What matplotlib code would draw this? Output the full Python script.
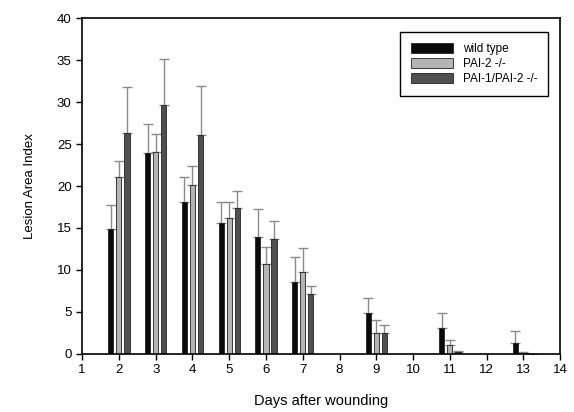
import numpy as np
import matplotlib
matplotlib.use('Agg')
import matplotlib.pyplot as plt

plt.rcParams['font.family'] = ['Liberation Sans', 'DejaVu Sans']

# Datos
dias = [2, 3, 4, 5, 6, 7, 9, 11, 13]
wild_type = [14.9, 23.9, 18.1, 15.6, 13.9, 8.6, 4.9, 3.1, 1.3]
wild_type_err = [2.8, 3.5, 3.0, 2.5, 3.4, 2.9, 1.8, 1.8, 1.4]
pai2 = [21.1, 24.0, 20.1, 16.2, 10.7, 9.7, 2.5, 1.1, 0.1]
pai2_err = [1.9, 2.2, 2.3, 1.9, 2.0, 2.9, 1.5, 0.5, 0.1]
pai12 = [26.3, 29.7, 26.1, 17.4, 13.7, 7.1, 2.5, 0.2, 0.0]
pai12_err = [5.5, 5.4, 5.8, 2.0, 2.1, 1.0, 0.9, 0.2, 0.0]

series = [
    ('wild type', wild_type, wild_type_err, '#0a0a0a', -0.22),
    ('PAI-2 -/-', pai2, pai2_err, '#b4b4b4', 0.0),
    ('PAI-1/PAI-2 -/-', pai12, pai12_err, '#505050', 0.22),
]

fig = plt.figure(figsize=(5.74, 4.12), dpi=100)
ax = fig.add_axes([0.143, 0.141, 0.833, 0.815])

x = np.array(dias)
for nombre, vals, errs, color, desp in series:
    ax.bar(x + desp, vals, width=0.14, color=color, edgecolor='#222222',
           linewidth=0.6, label=nombre, zorder=2)
    ax.errorbar(x + desp, vals, yerr=[np.zeros(len(errs)), errs], fmt='none',
                ecolor='#8a8a8a', elinewidth=1.0, capsize=3.5, capthick=1.0,
                zorder=1)

ax.set_xlim(1, 14)
ax.set_ylim(0, 40)
ax.set_xticks(range(1, 15))
ax.set_yticks(range(0, 41, 5))
ax.tick_params(direction='out', length=4, labelsize=9.5, width=1)
for s in ax.spines.values():
    s.set_linewidth(1.2)

ax.set_ylabel('Lesion Area Index', fontsize=9.5, labelpad=15)
ax.set_xlabel('Days after wounding', fontsize=10.5, labelpad=13)

leg = ax.legend(loc='upper right', bbox_to_anchor=(0.987, 0.975), fontsize=8.5,
                fancybox=False, edgecolor='black', framealpha=1,
                handlelength=3.6, handleheight=0.9, borderpad=0.9,
                labelspacing=0.25)
leg.get_frame().set_linewidth(1.0)

fig.savefig('out.png', dpi=100)
